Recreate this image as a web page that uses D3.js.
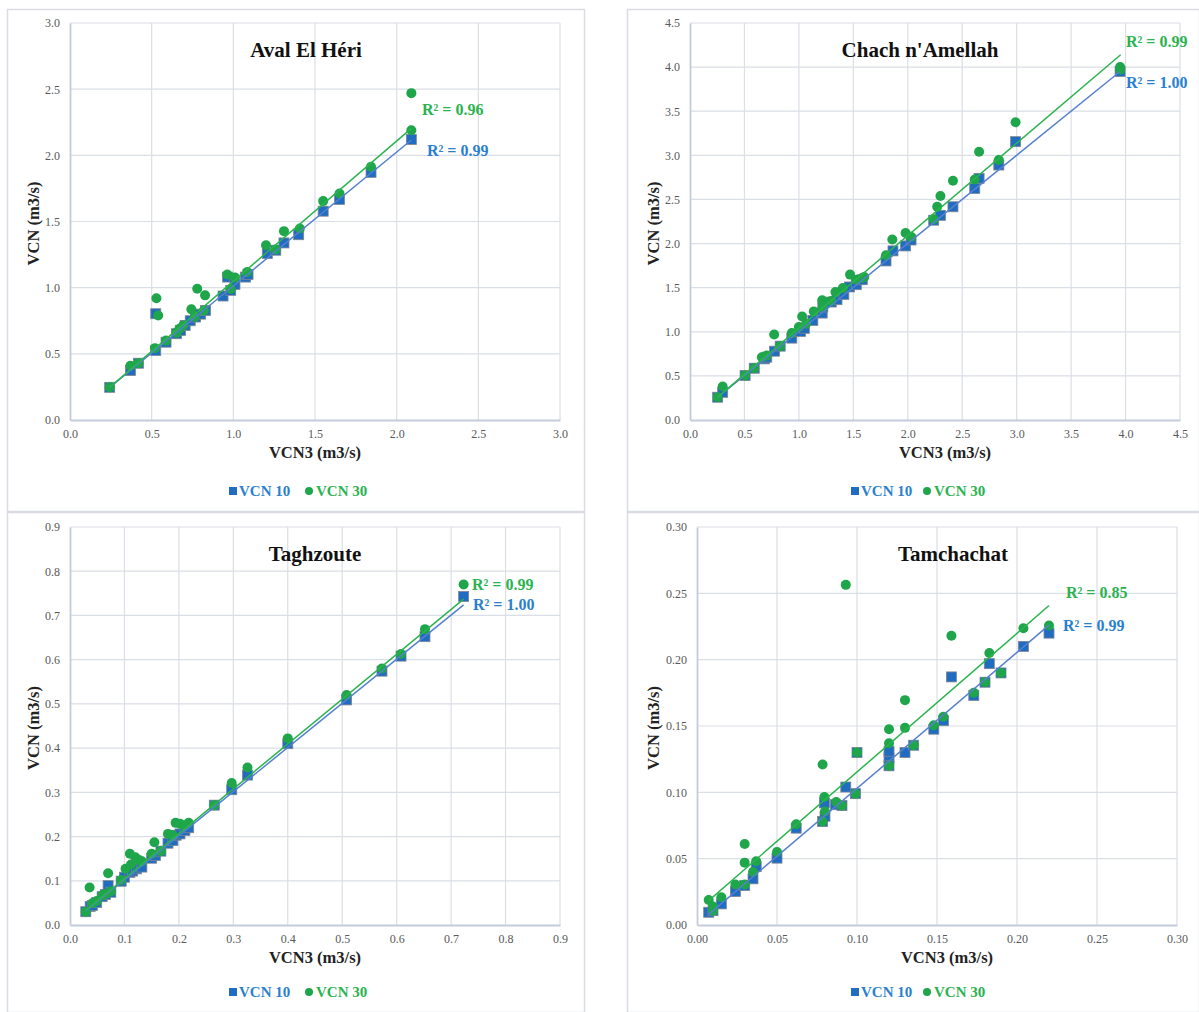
<!DOCTYPE html>
<html><head><meta charset="utf-8">
<script src="https://cdn.jsdelivr.net/npm/d3@7"></script>
<style>
html,body{margin:0;padding:0;background:#fff;}
svg{display:block;font-family:"Liberation Serif","Times New Roman",serif;}
</style></head>
<body><svg id="c" width="1199" height="1012"></svg>
<script>
// ---------- DATA (x = VCN3, y = VCN) ----------
const titles = ["Aval El Héri","Chach n'Amellah","Taghzoute","Tamchachat"];
const seriesNames = ["VCN 10","VCN 30"];

const avalTicks = [0,0.5,1.0,1.5,2.0,2.5,3.0];
const chachTicks = [0,0.5,1.0,1.5,2.0,2.5,3.0,3.5,4.0,4.5];
const taghTicks = [0,0.1,0.2,0.3,0.4,0.5,0.6,0.7,0.8,0.9];
const tamTicks = [0,0.05,0.10,0.15,0.20,0.25,0.30];

const avalVCN10 = [[0.243,0.247],[0.37,0.374],[0.419,0.429],[0.525,0.803],[0.525,0.525],[0.588,0.588],[0.652,0.652],[0.677,0.677],[0.705,0.715],[0.736,0.75],[0.768,0.778],[0.80,0.80],[0.83,0.828],[0.937,0.937],[0.965,1.08],[0.984,0.98],[1.01,1.025],[1.075,1.08],[1.09,1.10],[1.208,1.258],[1.26,1.283],[1.31,1.338],[1.40,1.40],[1.55,1.578],[1.65,1.667],[1.843,1.871],[2.09,2.12]];
const avalVCN30 = [[0.243,0.247],[0.37,0.41],[0.419,0.429],[0.529,0.92],[0.54,0.79],[0.52,0.543],[0.588,0.60],[0.652,0.66],[0.67,0.69],[0.694,0.715],[0.743,0.836],[0.779,0.992],[0.827,0.942],[0.82,0.828],[0.764,0.778],[0.963,1.10],[1.01,1.076],[0.984,0.99],[1.085,1.118],[1.20,1.32],[1.26,1.288],[1.31,1.427],[1.407,1.447],[1.55,1.654],[1.65,1.712],[1.843,1.914],[2.09,2.19],[2.09,2.47]];
const avalTrend10 = [[0.243,0.247],[2.09,2.116]];
const avalTrend30 = [[0.243,0.247],[2.09,2.204]];
const avalR2 = ["R² = 0.99","R² = 0.96"];

const chachVCN10 = [[0.254,0.258],[0.30,0.314],[0.506,0.504],[0.59,0.587],[0.684,0.693],[0.705,0.712],[0.776,0.78],[0.828,0.837],[0.935,0.928],[1.015,1.004],[1.05,1.04],[1.128,1.129],[1.214,1.212],[1.22,1.28],[1.297,1.337],[1.35,1.364],[1.413,1.424],[1.465,1.508],[1.527,1.534],[1.582,1.59],[1.80,1.803],[1.864,1.917],[1.98,1.973],[2.03,2.04],[2.238,2.265],[2.30,2.32],[2.415,2.417],[2.615,2.625],[2.655,2.739],[2.836,2.89],[2.99,3.155],[3.95,3.95]];
const chachVCN30 = [[0.254,0.258],[0.30,0.379],[0.506,0.504],[0.59,0.587],[0.66,0.712],[0.705,0.73],[0.773,0.97],[0.828,0.837],[0.935,0.985],[1.0,1.053],[1.03,1.174],[1.067,1.09],[1.137,1.231],[1.214,1.356],[1.22,1.28],[1.297,1.348],[1.336,1.45],[1.404,1.496],[1.47,1.648],[1.527,1.59],[1.582,1.61],[1.6,1.62],[1.80,1.867],[1.858,2.045],[1.98,2.12],[2.03,2.076],[2.238,2.276],[2.27,2.417],[2.30,2.54],[2.415,2.712],[2.615,2.727],[2.655,3.04],[2.836,2.947],[2.99,3.375],[3.95,3.97],[3.95,4.0]];
const chachTrend10 = [[0.254,0.258],[3.95,3.95]];
const chachTrend30 = [[0.254,0.26],[3.955,4.14]];
const chachR2 = ["R² = 1.00","R² = 0.99"];

const taghVCN10 = [[0.029,0.030],[0.037,0.042],[0.041,0.044],[0.049,0.051],[0.059,0.064],[0.065,0.069],[0.07,0.089],[0.075,0.074],[0.094,0.099],[0.10,0.108],[0.11,0.119],[0.115,0.122],[0.122,0.127],[0.132,0.131],[0.15,0.151],[0.157,0.157],[0.167,0.167],[0.18,0.185],[0.189,0.191],[0.195,0.203],[0.202,0.206],[0.211,0.214],[0.218,0.22],[0.265,0.271],[0.297,0.306],[0.326,0.339],[0.40,0.41],[0.508,0.509],[0.573,0.574],[0.608,0.608],[0.652,0.652],[0.723,0.743]];
const taghVCN30 = [[0.029,0.030],[0.036,0.085],[0.041,0.049],[0.049,0.054],[0.059,0.067],[0.065,0.07],[0.07,0.117],[0.075,0.076],[0.094,0.102],[0.102,0.127],[0.11,0.161],[0.112,0.137],[0.12,0.153],[0.127,0.147],[0.132,0.144],[0.15,0.161],[0.155,0.187],[0.167,0.167],[0.18,0.206],[0.189,0.203],[0.194,0.231],[0.202,0.229],[0.209,0.225],[0.218,0.231],[0.265,0.271],[0.297,0.321],[0.326,0.356],[0.40,0.422],[0.508,0.52],[0.573,0.58],[0.608,0.613],[0.652,0.669],[0.723,0.77]];
const taghTrend10 = [[0.029,0.031],[0.723,0.724]];
const taghTrend30 = [[0.029,0.033],[0.723,0.737]];
const taghR2 = ["R² = 1.00","R² = 0.99"];

const tamVCN10 = [[0.0073,0.0096],[0.010,0.0108],[0.0152,0.0159],[0.024,0.0252],[0.0298,0.0297],[0.035,0.0348],[0.037,0.044],[0.05,0.0504],[0.062,0.073],[0.0785,0.078],[0.080,0.082],[0.0796,0.092],[0.0865,0.0907],[0.0906,0.090],[0.093,0.104],[0.099,0.099],[0.10,0.13],[0.12,0.126],[0.12,0.131],[0.12,0.12],[0.130,0.130],[0.1354,0.1355],[0.148,0.1476],[0.154,0.154],[0.159,0.187],[0.173,0.173],[0.180,0.183],[0.1827,0.197],[0.19,0.19],[0.204,0.21],[0.22,0.22]];
const tamVCN30 = [[0.0073,0.0189],[0.010,0.0108],[0.010,0.0139],[0.0152,0.0209],[0.024,0.0305],[0.0298,0.0305],[0.0298,0.047],[0.0298,0.061],[0.035,0.040],[0.037,0.048],[0.05,0.055],[0.062,0.076],[0.0785,0.121],[0.0785,0.078],[0.0796,0.0965],[0.080,0.0856],[0.087,0.0927],[0.0906,0.090],[0.093,0.2564],[0.099,0.099],[0.10,0.13],[0.12,0.1476],[0.12,0.137],[0.12,0.12],[0.130,0.1695],[0.130,0.1486],[0.1354,0.1355],[0.148,0.1506],[0.154,0.157],[0.159,0.218],[0.173,0.175],[0.180,0.183],[0.1827,0.205],[0.19,0.19],[0.204,0.2237],[0.22,0.2257]];
const tamTrend10 = [[0.0073,0.008],[0.22,0.226]];
const tamTrend30 = [[0.0073,0.0184],[0.22,0.2408]];
const tamR2 = ["R² = 0.99","R² = 0.85"];

// ---------- LAYOUT ----------
const COL_BLUE = "#1f6cc0", COL_GREEN = "#1fa64b";
const LINE_BLUE = "#5580d0", LINE_GREEN = "#2bb34f";
const TXT_BLUE = "#2a7fd0", TXT_GREEN = "#2ab34f";

const panels = [
  {title:titles[0], d10:avalVCN10, d30:avalVCN30, t10:avalTrend10, t30:avalTrend30, r2:avalR2, ticks:avalTicks, fmt:d3.format(".1f"),
   box:[7,9,584,511], plot:[70,560,23,420], r2pos:[[427,150],[422,109]], titleX:306, legX:[233,309]},
  {title:titles[1], d10:chachVCN10, d30:chachVCN30, t10:chachTrend10, t30:chachTrend30, r2:chachR2, ticks:chachTicks, fmt:d3.format(".1f"),
   box:[627,9,1199,511], plot:[690,1180,23,420], r2pos:[[1126,82],[1126,41]], titleX:920, legX:[855,927]},
  {title:titles[2], d10:taghVCN10, d30:taghVCN30, t10:taghTrend10, t30:taghTrend30, r2:taghR2, ticks:taghTicks, fmt:d3.format(".1f"),
   box:[7,512,584,1012], plot:[70,560,527,925], r2pos:[[473,604],[472,584]], titleX:315, legX:[233,309]},
  {title:titles[3], d10:tamVCN10, d30:tamVCN30, t10:tamTrend10, t30:tamTrend30, r2:tamR2, ticks:tamTicks, fmt:d3.format(".2f"),
   box:[627,512,1199,1012], plot:[697,1177,527,925], r2pos:[[1063,625],[1066,592]], titleX:953, legX:[855,927]}
];

const svg = d3.select("#c");

panels.forEach(p => {
  const g = svg.append("g");
  const [bx0,by0,bx1,by1] = p.box;
  g.append("rect").attr("x",bx0+0.5).attr("y",by0+0.5).attr("width",bx1-bx0).attr("height",by1-by0)
    .attr("fill","#fff").attr("stroke","#d9dce3").attr("stroke-width",1.5);

  const [L,R,T,B] = p.plot;
  const tmax = p.ticks[p.ticks.length-1];
  const x = d3.scaleLinear().domain([0,tmax]).range([L,R]);
  const y = d3.scaleLinear().domain([0,tmax]).range([B,T]);

  // gridlines
  g.append("g").selectAll("line.v").data(p.ticks.slice(1)).join("line")
    .attr("x1",d=>x(d)).attr("x2",d=>x(d)).attr("y1",T).attr("y2",B)
    .attr("stroke","#dadee6").attr("stroke-width",1.2);
  g.append("g").selectAll("line.h").data(p.ticks.slice(1)).join("line")
    .attr("x1",L).attr("x2",R).attr("y1",d=>y(d)).attr("y2",d=>y(d))
    .attr("stroke","#dadee6").attr("stroke-width",1.2);

  // axes
  const ax = g.append("g").attr("transform",`translate(0,${B})`)
    .call(d3.axisBottom(x).tickValues(p.ticks).tickFormat(p.fmt).tickSize(0).tickPadding(9));
  const ay = g.append("g").attr("transform",`translate(${L},0)`)
    .call(d3.axisLeft(y).tickValues(p.ticks).tickFormat(p.fmt).tickSize(0).tickPadding(10));
  [ax,ay].forEach(a=>{
    a.select(".domain").attr("stroke","#c3cbdc").attr("stroke-width",1.8);
    a.selectAll("text").attr("font-family","Liberation Serif").attr("font-size",12).attr("fill","#595959");
  });

  // title
  g.append("text").attr("x",p.titleX).attr("y",T+34).attr("text-anchor","middle")
    .attr("font-weight","bold").attr("font-size",21).attr("fill","#111").text(p.title);

  // axis titles
  g.append("text").attr("x",(L+R)/2+(p.plot[0]>600?10:0)).attr("y",B+38).attr("text-anchor","middle")
    .attr("font-weight","bold").attr("font-size",16.5).attr("fill","#222").text("VCN3 (m3/s)");
  g.append("text").attr("transform",`translate(${bx0+32},${(T+B)/2+2}) rotate(-90)`).attr("text-anchor","middle")
    .attr("font-weight","bold").attr("font-size",16.5).attr("fill","#222").text("VCN (m3/s)");

  // markers
  const half = 5;
  g.append("g").selectAll("rect").data(p.d10).join("rect")
    .attr("x",d=>x(d[0])-half).attr("y",d=>y(d[1])-half).attr("width",half*2).attr("height",half*2)
    .attr("fill",COL_BLUE).attr("stroke","#7f8590").attr("stroke-width",0.8);
  g.append("g").selectAll("circle").data(p.d30).join("circle")
    .attr("cx",d=>x(d[0])).attr("cy",d=>y(d[1])).attr("r",5)
    .attr("fill",COL_GREEN);

  // trend lines
  const line = d3.line().x(d=>x(d[0])).y(d=>y(d[1]));
  g.append("path").datum(p.t10).attr("d",line).attr("stroke",LINE_BLUE).attr("stroke-width",1.5).attr("fill","none");
  g.append("path").datum(p.t30).attr("d",line).attr("stroke",LINE_GREEN).attr("stroke-width",1.5).attr("fill","none");

  // R² labels
  g.append("text").attr("x",p.r2pos[0][0]).attr("y",p.r2pos[0][1]+5.5).attr("font-weight","bold")
    .attr("font-size",16).attr("fill",TXT_BLUE).text(p.r2[0]);
  g.append("text").attr("x",p.r2pos[1][0]).attr("y",p.r2pos[1][1]+5.5).attr("font-weight","bold")
    .attr("font-size",16).attr("fill",TXT_GREEN).text(p.r2[1]);

  // legend
  const ly = by1 - 20;
  g.append("rect").attr("x",p.legX[0]-4).attr("y",ly-4).attr("width",8).attr("height",8).attr("fill",COL_BLUE);
  g.append("text").attr("x",p.legX[0]+6).attr("y",ly+5).attr("font-weight","bold").attr("font-size",15)
    .attr("fill",TXT_BLUE).text(seriesNames[0]);
  g.append("circle").attr("cx",p.legX[1]).attr("cy",ly).attr("r",4).attr("fill",COL_GREEN);
  g.append("text").attr("x",p.legX[1]+7).attr("y",ly+5).attr("font-weight","bold").attr("font-size",15)
    .attr("fill",TXT_GREEN).text(seriesNames[1]);
});
</script></body></html>
